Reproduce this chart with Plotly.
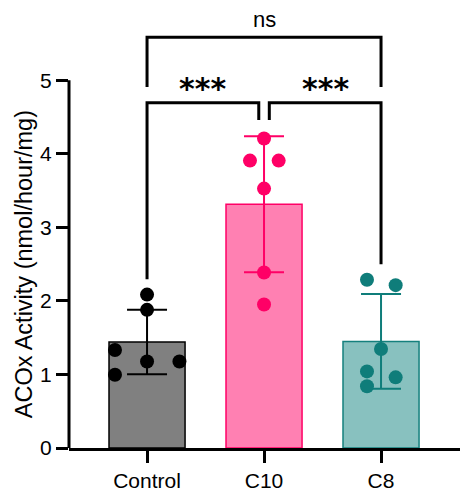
import numpy as np
import plotly.graph_objects as go

# ---------------- data ----------------
categories = ["Control", "C10", "C8"]
control_vals = [2.086, 1.879, 1.333, 1.176, 1.176, 0.997]
c10_vals = [4.21, 3.909, 3.909, 3.528, 2.386, 1.952]
c8_vals = [2.288, 2.215, 1.347, 1.042, 0.961, 0.84]
# horizontal scatter offsets of the individual points (category units)
control_jitter = [0, 0, -0.274, 0, 0.277, -0.274]
c10_jitter = [0, -0.12, 0.125, 0, 0, 0]
c8_jitter = [-0.12, 0.125, 0, -0.12, 0.125, -0.12]
y_ticks = [0, 1, 2, 3, 4, 5]
y_title = "ACOx Activity (nmol/hour/mg)"
# comparisons: (group a, group b, label, bracket level)
comparisons = [(0, 1, "***", 4.694), (1, 2, "***", 4.694), (0, 2, "ns", 5.586)]

groups = [control_vals, c10_vals, c8_vals]
jitters = [control_jitter, c10_jitter, c8_jitter]
fills = ["#808080", "#FF80B2", "#88C1BF"]
edges = ["#000000", "#FF0066", "#15807D"]
dots = ["#000000", "#FF0066", "#0F7D7A"]

FONT = "Liberation Sans, Arial, Helvetica, sans-serif"

fig = go.Figure()
for i, vals in enumerate(groups):
    v = np.array(vals)
    fig.add_trace(go.Bar(
        x=[i], y=[v.mean()], width=0.65,
        marker=dict(color=fills[i], line=dict(color=edges[i], width=1.5)),
        error_y=dict(type="data", array=[v.std(ddof=1)], visible=True,
                     color=dots[i], thickness=2, width=20),
        showlegend=False, hoverinfo="skip",
    ))
for i, vals in enumerate(groups):
    fig.add_trace(go.Scatter(
        x=[i + j for j in jitters[i]], y=vals, mode="markers",
        marker=dict(size=14, color=dots[i]),
        showlegend=False, cliponaxis=False,
    ))

# significance brackets
leg_gap = 0.21
inner_drop = 0.234
for a, b, label, level in comparisons:
    if label == "ns":
        xa, xb = a, b
        ya = yb = level - 0.677
    else:
        # one leg goes down to the data, the other stops short near the middle group
        if a == 0:
            xa, xb = a, b - 0.045
            ya = max(groups[a]) + leg_gap
            yb = level - inner_drop
        else:
            xa, xb = a + 0.045, b
            ya = level - inner_drop
            yb = max(groups[b]) + leg_gap
    fig.add_shape(type="path",
                  path=f"M {xa},{ya} L {xa},{level} L {xb},{level} L {xb},{yb}",
                  xref="x", yref="y", line=dict(color="black", width=3))
    if label == "ns":
        fig.add_annotation(x=(xa + xb) / 2, y=level, yshift=18, text=label,
                           showarrow=False, yanchor="middle",
                           font=dict(family=FONT, size=22, color="black"))
    else:
        fig.add_annotation(x=(xa + xb) / 2, y=level, yshift=-5, text="<b>" + label + "</b>",
                           showarrow=False, yanchor="bottom",
                           font=dict(family="DejaVu Sans", size=30, color="black"))

# y axis line from 0 to 5 only
fig.add_shape(type="line", xref="paper", yref="y", x0=0, x1=0, y0=0, y1=max(y_ticks),
              line=dict(color="black", width=3))

fig.add_annotation(xref="paper", yref="y", x=-0.115, y=max(y_ticks) / 2, text=y_title,
                   textangle=-90, showarrow=False, xanchor="center", yanchor="middle",
                   font=dict(family=FONT, size=23.5, color="black"))

fig.update_layout(
    width=460, height=492,
    margin=dict(l=69, r=0, t=10, b=40),
    plot_bgcolor="white", paper_bgcolor="white",
    font=dict(family=FONT, color="black"),
    barmode="overlay",
)
fig.update_xaxes(
    range=[-0.667, 2.675], tickvals=[0, 1, 2], ticktext=categories,
    showline=True, linecolor="black", linewidth=3,
    ticks="outside", ticklen=12, tickwidth=3, tickcolor="black",
    tickfont=dict(family=FONT, size=21, color="black"),
    showgrid=False, zeroline=False, fixedrange=True,
)
fig.update_yaxes(
    range=[0, 5.957], tickvals=y_ticks, ticktext=[str(t) for t in y_ticks],
    showline=False,
    ticks="outside", ticklen=12, tickwidth=3, tickcolor="black",
    tickfont=dict(family=FONT, size=21, color="black"),
    showgrid=False, zeroline=False, fixedrange=True,
)

fig.write_html("out.html", config={"displayModeBar": False},
               post_script="document.body.style.margin='0';document.body.style.overflow='hidden';")
